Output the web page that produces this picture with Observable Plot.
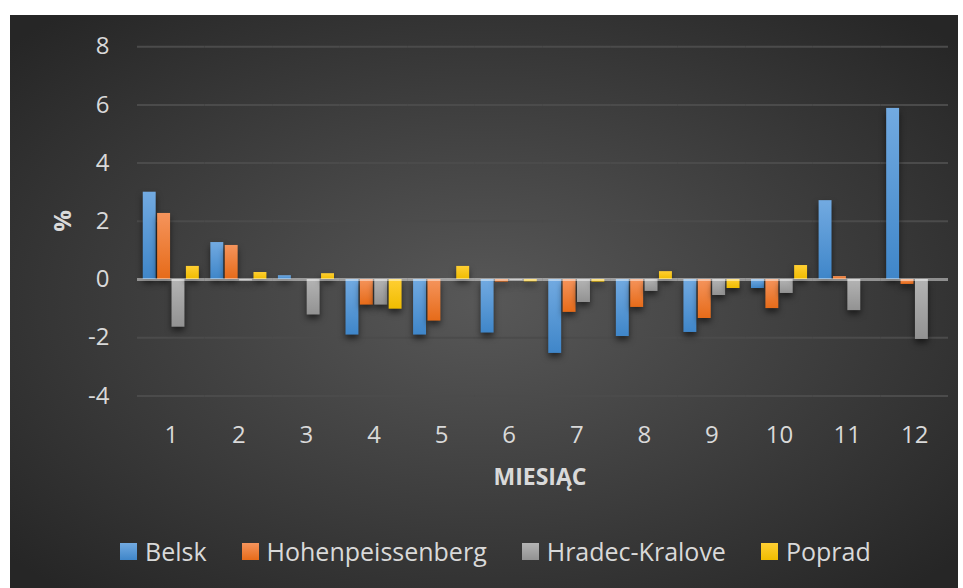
<!DOCTYPE html>
<html>
<head>
<meta charset="utf-8">
<script src="https://cdn.jsdelivr.net/npm/d3@7"></script>
<script src="https://cdn.jsdelivr.net/npm/@observablehq/plot@0.6"></script>
<style>
html, body { margin: 0; padding: 0; background: #ffffff; width: 963px; height: 588px; overflow: hidden; }
#chart {
  position: absolute; left: 10px; top: 15px; width: 948px; height: 573px;
  background: radial-gradient(ellipse farthest-corner at 50% 50%, #585858 0%, #262626 95%);
  font-family: "Open Sans", sans-serif; color: #d9d9d9; overflow: hidden;
}
#plot { position: absolute; left: 0; top: 0; }
#ytitle {
  position: absolute; left: 22px; top: 191px; width: 60px; height: 30px; line-height: 30px;
  text-align: center; font-size: 24px; font-weight: bold; transform: rotate(-90deg);
}
#xtitle {
  position: absolute; left: 430px; top: 446px; width: 200px; height: 30px; line-height: 30px;
  text-align: center; font-size: 23px; font-weight: bold;
}
#legend {
  position: absolute; left: 110px; top: 521px; height: 30px;
  display: flex; align-items: center; font-size: 25px; white-space: nowrap;
}
.item { display: flex; align-items: center; margin-right: 35px; }
.sw { width: 17px; height: 17px; margin-right: 8px; }
</style>
</head>
<body>
<div id="chart">
  <div id="plot"></div>
  <div id="ytitle">%</div>
  <div id="xtitle">MIESIĄC</div>
  <div id="legend"></div>
</div>
<script>
const months = [1, 2, 3, 4, 5, 6, 7, 8, 9, 10, 11, 12];
const series = ["Belsk", "Hohenpeissenberg", "Hradec-Kralove", "Poprad"];
const belsk  = [3.00, 1.27, 0.13, -1.91, -1.91, -1.84, -2.54, -1.96, -1.82, -0.31, 2.71, 5.88];
const hohen  = [2.27, 1.17, 0.00, -0.88, -1.43, -0.09, -1.13, -0.96, -1.34, -1.00, 0.10, -0.17];
const hradec = [-1.64, -0.05, -1.22, -0.88, 0.00, -0.04, -0.79, -0.41, -0.55, -0.48, -1.07, -2.06];
const poprad = [0.45, 0.24, 0.20, -1.02, 0.45, -0.08, -0.09, 0.27, -0.31, 0.48, 0.00, 0.00];
const yTicks = [-4, -2, 0, 2, 4, 6, 8];
const colors = ["#5b9bd5", "#ed7d31", "#a5a5a5", "#ffc000"];
const gradTop = ["#72aae1", "#f5945c", "#b4b4b4", "#ffcf33"];
const gradBot = ["#3f86c9", "#e66b19", "#929292", "#f0bc00"];

const valuesBySeries = [belsk, hohen, hradec, poprad];
const data = months.flatMap((m, i) => series.map((s, j) => ({month: m, series: s, value: valuesBySeries[j][i]})));

const plot = Plot.plot({
  width: 948,
  height: 440,
  marginLeft: 127,
  marginRight: 10,
  marginTop: 31.2,
  marginBottom: 59.6,
  style: {background: "transparent", color: "#d9d9d9", fontFamily: "'Open Sans', sans-serif", fontSize: "24px", overflow: "visible"},
  facet: {data, x: "month"},
  fx: {domain: months, padding: 0, round: false, axis: "bottom", tickSize: 0, tickPadding: 30, label: null},
  x: {domain: series, paddingInner: 0.1, paddingOuter: 0.4, round: false, axis: null},
  y: {domain: [-4, 8], ticks: yTicks, tickSize: 0, tickPadding: 28, label: null, tickFormat: d => String(d)},
  marks: [
    Plot.ruleY(yTicks.filter(d => d !== 0), {stroke: "#4b4b4b", strokeWidth: 2}),
    ...series.map((s, j) => Plot.barY(data, {
      filter: d => d.series === s,
      x: "series",
      y: "value",
      fill: `url(#grad${j})`
    })),
    Plot.ruleY([0], {stroke: "#ffffff", strokeOpacity: 0.45, strokeWidth: 3})
  ]
});

const svg = plot.tagName.toLowerCase() === "svg" ? plot : plot.querySelector("svg");
const ns = "http://www.w3.org/2000/svg";
const defs = document.createElementNS(ns, "defs");
series.forEach((s, j) => {
  const lg = document.createElementNS(ns, "linearGradient");
  lg.setAttribute("id", `grad${j}`);
  lg.setAttribute("x1", "0"); lg.setAttribute("y1", "0");
  lg.setAttribute("x2", "0"); lg.setAttribute("y2", "1");
  const s1 = document.createElementNS(ns, "stop");
  s1.setAttribute("offset", "0"); s1.setAttribute("stop-color", gradTop[j]);
  const s2 = document.createElementNS(ns, "stop");
  s2.setAttribute("offset", "1"); s2.setAttribute("stop-color", gradBot[j]);
  lg.appendChild(s1); lg.appendChild(s2);
  defs.appendChild(lg);
});
svg.insertBefore(defs, svg.firstChild);
svg.querySelectorAll('g[aria-label="bar"]').forEach(g => {
  g.style.filter = "drop-shadow(0px 4px 3px rgba(0,0,0,0.55))";
});
document.getElementById("plot").appendChild(plot);

const legend = document.getElementById("legend");
series.forEach((s, j) => {
  const item = document.createElement("div");
  item.className = "item";
  const sw = document.createElement("div");
  sw.className = "sw";
  sw.style.background = `linear-gradient(${gradTop[j]}, ${gradBot[j]})`;
  const t = document.createElement("span");
  t.textContent = s;
  item.appendChild(sw); item.appendChild(t);
  legend.appendChild(item);
});
</script>
</body>
</html>
